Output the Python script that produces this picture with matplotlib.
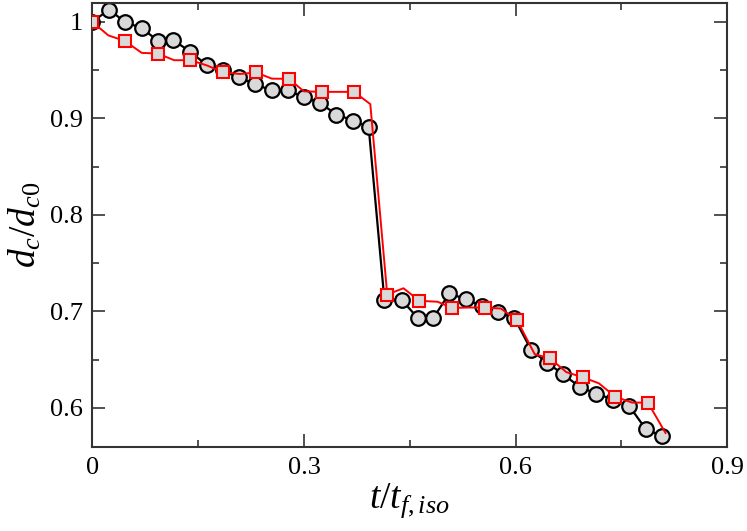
import matplotlib
matplotlib.use("Agg")
import matplotlib.pyplot as plt
from matplotlib.ticker import MultipleLocator, FormatStrFormatter, FuncFormatter

# black circles series
x_black = [0.0, 0.0237, 0.046, 0.070, 0.0926, 0.115, 0.139, 0.1625, 0.185, 0.2075,
           0.2306, 0.254, 0.277, 0.300, 0.3227, 0.346, 0.370, 0.3917, 0.414, 0.4385,
           0.4618, 0.483, 0.506, 0.5296, 0.5523, 0.575, 0.598, 0.622, 0.6445, 0.667,
           0.6915, 0.7145, 0.738, 0.761, 0.7845, 0.807]
y_black = [1.0, 1.0128, 1.0, 0.9935, 0.9807, 0.981, 0.969, 0.955, 0.950, 0.9424,
           0.9355, 0.929, 0.929, 0.922, 0.916, 0.904, 0.8978, 0.891, 0.7118, 0.712,
           0.6927, 0.6927, 0.7187, 0.7125, 0.7056, 0.6994, 0.6935, 0.660, 0.6469, 0.635,
           0.6214, 0.6148, 0.6086, 0.602, 0.578, 0.571]

# red squares series (markers on every other point)
x_red = [0.0, 0.0227, 0.046, 0.070, 0.0926, 0.116, 0.139, 0.162, 0.1856, 0.209,
         0.232, 0.2545, 0.2786, 0.300, 0.325, 0.348, 0.371, 0.394, 0.418, 0.441,
         0.4636, 0.4895, 0.5096, 0.533, 0.556, 0.579, 0.602, 0.627, 0.6485, 0.672,
         0.695, 0.718, 0.741, 0.765, 0.7875, 0.8125]
y_red = [1.0, 0.986, 0.9803, 0.9679, 0.9672, 0.9603, 0.9603, 0.955, 0.9478, 0.946,
         0.9476, 0.9412, 0.941, 0.928, 0.9275, 0.9275, 0.9275, 0.9148, 0.7175, 0.724,
         0.711, 0.710, 0.7036, 0.704, 0.704, 0.703, 0.691, 0.6557, 0.6514, 0.637,
         0.6318, 0.6255, 0.6117, 0.6055, 0.6055, 0.574]

x_ticks = [0, 0.3, 0.6, 0.9]
y_ticks = [0.6, 0.7, 0.8, 0.9, 1.0]

plt.rcParams['font.family'] = ['Liberation Serif', 'DejaVu Serif']
plt.rcParams['mathtext.fontset'] = 'custom'
plt.rcParams['mathtext.it'] = 'Liberation Serif:italic'
plt.rcParams['mathtext.rm'] = 'Liberation Serif'

fig = plt.figure(figsize=(7.47, 5.31), dpi=100)
ax = fig.add_axes([0.1236, 0.1582, 0.85, 0.836])

ax.plot(x_black, y_black, color='black', lw=1.6, marker='o', ms=10.5,
        mfc='#d9d9d9', mec='black', mew=1.6, zorder=2)
ax.plot(x_red, y_red, color='red', lw=1.4, marker='s', ms=8.5,
        mfc='#d9d9d9', mec='red', mew=1.5, markevery=list(range(0, 35, 2)), zorder=3)

ax.set_xlim(0, 0.9)
ax.set_ylim(0.5595, 1.0195)
ax.set_xticks(x_ticks)
ax.set_yticks(y_ticks)
ax.xaxis.set_minor_locator(MultipleLocator(0.15))
ax.yaxis.set_minor_locator(MultipleLocator(0.05))
fmt = FuncFormatter(lambda v, p: ('%g' % round(v, 3)))
ax.xaxis.set_major_formatter(fmt)
ax.yaxis.set_major_formatter(fmt)

ax.tick_params(which='both', direction='in', top=True, right=True, labelsize=19, width=1.2, color='#333333')
ax.tick_params(which='major', length=9.5, pad=7)
ax.tick_params(which='minor', length=4.7)
for s in ax.spines.values():
    s.set_linewidth(1.5)
    s.set_color('#333333')

ax.set_xlabel(r'$t/t_{\mathit{f,iso}}$', fontsize=27, labelpad=2)
ax.set_ylabel(r'$d_c/d_{\mathit{c0}}$', fontsize=27, labelpad=4)

fig.savefig('out.png', dpi=100)
